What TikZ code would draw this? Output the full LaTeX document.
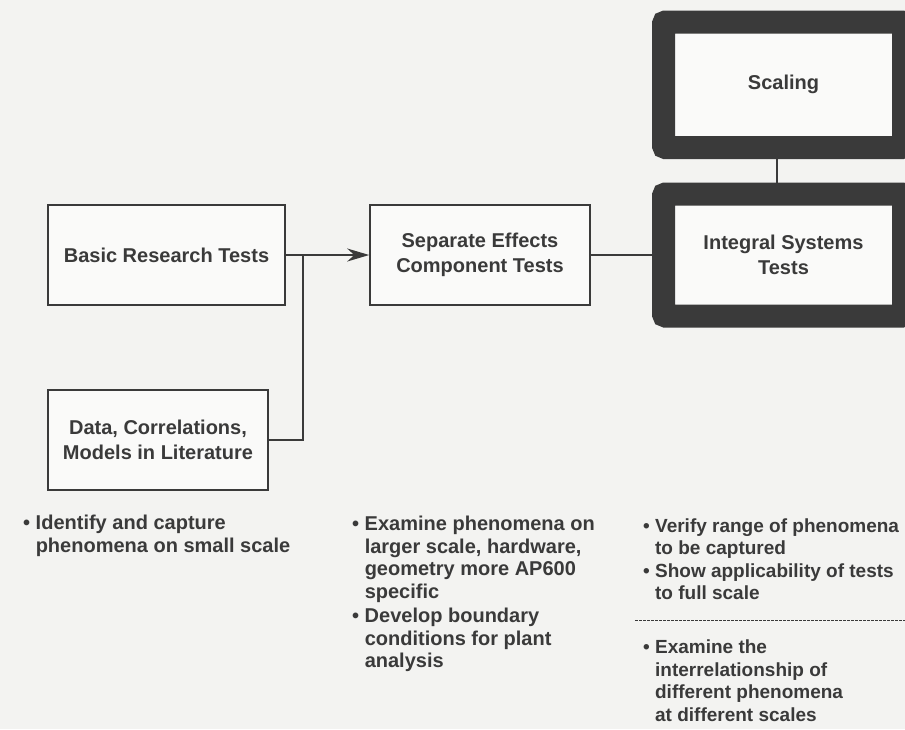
\documentclass[tikz,border=0pt]{standalone}
\usepackage{fontspec}
\setmainfont{Liberation Sans}
\usepackage{tikz}
\usetikzlibrary{arrows.meta}
\usepackage{xcolor}

\definecolor{paper}{HTML}{F3F3F1}
\definecolor{ink}{HTML}{3A3A3A}
\newcommand{\boxfnt}{\fontsize{20}{25}\selectfont\bfseries}
\newcommand{\notefnt}{\fontsize{20}{22.5}\selectfont\bfseries}
\newcommand{\ind}{\hphantom{\textbullet\ }}

\begin{document}
\begin{tikzpicture}[x=1pt, y=-1pt,
    box/.style={draw=ink, line width=1.6pt, fill=white!60!paper, inner sep=0pt,
        minimum height=100pt, align=center, font=\boxfnt, text=ink},
    heavybox/.style={draw=ink, line width=23pt, rounded corners=2pt, fill=white!60!paper,
        inner sep=0pt, minimum width=240pt, align=center, font=\boxfnt, text=ink},
    link/.style={draw=ink, line width=1.8pt},
    note/.style={anchor=west, align=left, inner sep=0pt, font=\notefnt, text=ink}]

    % Page
    \fill[paper] (0,0) rectangle (905,729);
    \useasboundingbox (0,0) rectangle (905,729);

    % Boxes
    \node[box, minimum width=237pt] (basic) at (166.5,255) {Basic Research Tests};
    \node[box, minimum width=220pt] (data) at (158,440) {Data, Correlations,\\Models in Literature};
    \node[box, minimum width=220pt] (sep) at (480,255) {Separate Effects\\Component Tests};
    \node[heavybox, minimum height=125.5pt] (scal) at (783.5,84.75) {Scaling};
    \node[heavybox, minimum height=122pt] (integ) at (783.5,255) {Integral Systems\\Tests};

    % Connectors
    \coordinate (join) at (303,255);
    \draw[link] (basic.east) -- (join);
    \draw[link, -{Stealth[length=22pt, width=13pt]}] (data.east) -| (join) -- (sep.west);
    \draw[link] (sep.east) -- (integ.west);
    \draw[link] ([xshift=-6.5pt]scal.south) -- ([xshift=-6.5pt]integ.north);

    % Notes under each stage
    \node[note] (basicnote) at (23,536)
        {\textbullet\ Identify and capture\\\ind phenomena on small scale};
    \node[note] (sepnote) at (352,594)
        {\textbullet\ Examine phenomena on\\\ind larger scale, hardware,\\\ind geometry more AP600\\\ind specific\\[2pt]%
         \textbullet\ Develop boundary\\\ind conditions for plant\\\ind analysis};
    \node[note, font=\fontsize{19}{22.5}\selectfont\bfseries] (integnote) at (643,559)
        {\textbullet\ Verify range of phenomena\\\ind to be captured\\\textbullet\ Show applicability of tests\\\ind to full scale};
    \draw[ink, line width=0.8pt, dash pattern=on 3pt off 1pt] (635,620) -- (905,620);
    \node[note, font=\fontsize{19}{22.5}\selectfont\bfseries] (scalnote) at (643,680.5)
        {\textbullet\ Examine the\\\ind interrelationship of\\\ind different phenomena\\\ind at different scales};

\end{tikzpicture}
\end{document}
